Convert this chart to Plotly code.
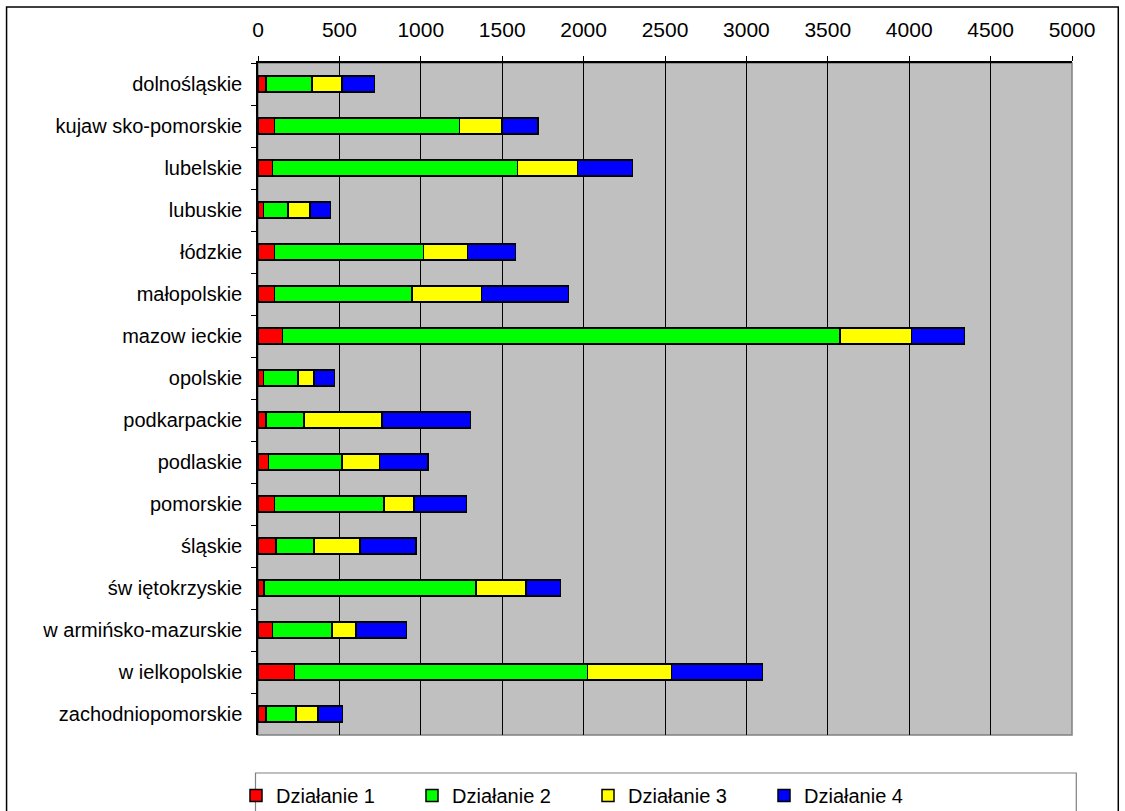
import plotly.graph_objects as go

categories = ["dolnośląskie", "kujaw sko-pomorskie", "lubelskie", "lubuskie", "łódzkie",
              "małopolskie", "mazow ieckie", "opolskie", "podkarpackie", "podlaskie",
              "pomorskie", "śląskie", "św iętokrzyskie", "w armińsko-mazurskie",
              "w ielkopolskie", "zachodniopomorskie"]

dzialanie_1 = [48, 101, 88, 35, 101, 101, 151, 35, 50, 63, 101, 112, 37, 88, 223, 48]
dzialanie_2 = [285, 1138, 1506, 149, 917, 845, 3424, 212, 232, 454, 674, 232, 1301, 367, 1802, 184]
dzialanie_3 = [182, 261, 370, 136, 269, 427, 440, 97, 480, 230, 182, 282, 307, 147, 516, 136]
dzialanie_4 = [201, 219, 337, 124, 296, 533, 326, 127, 543, 297, 324, 346, 213, 311, 557, 151]

series_names = ["Działanie 1", "Działanie 2", "Działanie 3", "Działanie 4"]
series_values = [dzialanie_1, dzialanie_2, dzialanie_3, dzialanie_4]
series_colors = ["#FF0000", "#00FF00", "#FFFF00", "#0000FF"]

x_ticks = list(range(0, 5001, 500))

W, H = 1125, 811
L, R, T, B = 257.5, 1071.7, 63, 735

fig = go.Figure()
for name, vals, col in zip(series_names, series_values, series_colors):
    fig.add_trace(go.Bar(
        y=categories, x=vals, name=name, orientation="h",
        marker=dict(color=col, line=dict(color="black", width=1.5)),
    ))

def px_x(p):
    return (p - L) / (R - L)

def px_y(p):
    return (B - p) / (B - T)

shapes = [
    dict(type="rect", xref="paper", yref="paper", x0=0, x1=1, y0=0, y1=1,
         line=dict(color="#808080", width=1.5), layer="below"),
    dict(type="rect", xref="paper", yref="paper", x0=px_x(6), x1=px_x(1118),
         y0=px_y(840), y1=px_y(7), line=dict(color="black", width=1.5)),
    dict(type="rect", xref="paper", yref="paper", x0=px_x(255), x1=px_x(1076),
         y0=px_y(840), y1=px_y(773), line=dict(color="#808080", width=1.2)),
]

fig.update_layout(
    width=W, height=H,
    margin=dict(l=L, r=W - R, t=T, b=H - B, pad=0, autoexpand=False),
    barmode="stack",
    bargap=0.62,
    plot_bgcolor="#C0C0C0",
    paper_bgcolor="white",
    font=dict(family="Liberation Sans, Arial, sans-serif", size=20, color="black"),
    showlegend=True,
    legend=dict(orientation="h", xref="container", yref="container",
                x=236 / W, y=1 - 776 / H, xanchor="left", yanchor="top",
                bgcolor="rgba(0,0,0,0)", borderwidth=0, entrywidth=131, entrywidthmode="pixels",
                itemwidth=30, font=dict(size=20), traceorder="normal"),
    shapes=shapes,
)

fig.update_xaxes(side="top", range=[0, 5000], tickvals=x_ticks, ticktext=[str(v) for v in x_ticks],
                 showgrid=True, gridcolor="black", gridwidth=1, zeroline=False,
                 showline=True, linecolor="black", linewidth=1.5, tickfont=dict(size=21),
                 ticks="outside", ticklen=5, tickcolor="black", ticklabelstandoff=11)
fig.update_yaxes(autorange="reversed", type="category", tickson="boundaries",
                 showline=True, linecolor="black", linewidth=1.5, showgrid=False,
                 tickfont=dict(size=20),
                 ticks="outside", ticklen=5, tickcolor="black", ticklabelstandoff=10)

fig.write_html("out.html", config={"displayModeBar": False},
               post_script="document.body.style.margin='0px';")
